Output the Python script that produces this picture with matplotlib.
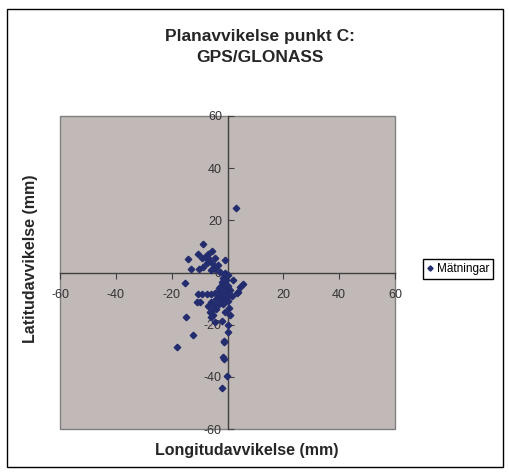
import matplotlib.pyplot as plt
from matplotlib.patches import Rectangle

plt.rcParams["font.family"] = ["Liberation Sans", "DejaVu Sans"]
plt.rcParams["axes.unicode_minus"] = False

# Mätningar (mm): longitud- och latitudavvikelse
lon = [-8.7, -14.3, -13.1, -10.5, -10.1, -9.2, -8.1, -6.9, -5.7, -4.5,
       -7.5, -8.7, -5.7, -4.7, -0.9, -4.5, -2.7, -0.9, -6.5, -7.0,
       -3.5, -6.0, -1.0, 0.0, -1.5, -0.5, -2.0, -1.0, 0.0, -2.5,
       -1.5, -3.0, -0.5, -2.0, -3.5, 0.0, -1.0, -2.5, -4.0, -1.5,
       -3.0, 0.0, -10.5, -9.0, -7.5, -6.0, -4.5, -15.2, -11.0, -9.7,
       -6.0, -5.0, 5.4, 4.5, 3.9, 3.3, 0.9, 1.5, 2.0, -5.7,
       -6.3, -5.1, -5.9, -2.1, 0.6, 0.9, 0.1, -1.1, -14.9, -12.5,
       -18.2, 0.0, -1.1, -1.7, -1.2, -0.3, -1.9, 3.2, -4.0, -4.5,
       -7.0, -3.0, -2.0, -1.0]
lat = [10.9, 5.1, 1.3, 7.0, 1.3, 5.4, 6.1, 7.0, 8.2, 5.4,
       3.5, 2.0, 3.5, 2.0, 4.8, 1.3, 0.3, 0.0, 4.5, 5.5,
       3.0, 1.0, -1.0, -1.0, -2.0, -3.0, -3.5, -4.5, -5.0, -5.0,
       -6.5, -6.0, -7.0, -8.0, -8.5, -9.0, -10.0, -10.5, -10.0, -12.0,
       -12.0, -11.0, -8.2, -8.2, -8.2, -8.2, -8.0, -3.9, -11.2, -11.2,
       -11.5, -12.5, -4.5, -5.4, -7.3, -8.0, -6.7, -9.0, -3.0, -14.4,
       -15.0, -16.3, -17.2, -18.5, -13.7, -16.3, -22.7, -26.2, -17.2, -23.8,
       -28.7, -20.0, -26.7, -32.5, -33.2, -39.5, -44.4, 24.6, -14.0, -19.0,
       -13.0, -7.0, -9.5, -15.0]

ticks = [-60, -40, -20, 0, 20, 40, 60]

fig = plt.figure(figsize=(5.09, 4.75), dpi=100)
fig.patches.append(Rectangle((7 / 509, 1 - 467 / 475), 496 / 509, 458 / 475,
                             transform=fig.transFigure, fill=False,
                             edgecolor="black", lw=1))

ax = fig.add_axes([60 / 509, 46 / 475, 335 / 509, 313 / 475])
ax.set_facecolor("#C0B9B7")

ax.plot(lon, lat, linestyle="none", marker="D", markersize=3.3,
        color="#232C6E", label="Mätningar", clip_on=False, zorder=3)

ax.set_xlim(-60, 60)
ax.set_ylim(-60, 60)
ax.set_xticks(ticks)
ax.set_yticks(ticks)

for s in ["top", "right"]:
    ax.spines[s].set_visible(False)
ax.spines["left"].set_position(("data", 0))
ax.spines["bottom"].set_position(("data", 0))
for s in ["left", "bottom"]:
    ax.spines[s].set_color("#404040")
    ax.spines[s].set_linewidth(1)
ax.add_patch(Rectangle((0, 0), 1, 1, transform=ax.transAxes, fill=False,
                       edgecolor="#808080", lw=1, clip_on=False))

ax.tick_params(axis="x", direction="out", length=4, pad=8, labelsize=9,
               colors="#404040", labelcolor="#333333")
ax.tick_params(axis="y", direction="in", length=4, pad=4, labelsize=9,
               colors="#404040", labelcolor="#333333")

fig.text(260 / 509, 1 - 47 / 475, "Planavvikelse punkt C:\nGPS/GLONASS",
         ha="center", va="center", fontsize=12.5, fontweight="bold",
         color="#262626", linespacing=1.5)
fig.text(247 / 509, 1 - 450 / 475, "Longitudavvikelse (mm)", ha="center",
         va="center", fontsize=11.5, fontweight="bold", color="#262626")
fig.text(31 / 509, 1 - 259 / 475, "Latitudavvikelse (mm)", ha="center",
         va="center", rotation=90, fontsize=11.5, fontweight="bold",
         color="#262626")

fig.legend(loc="center left", bbox_to_anchor=(417 / 509, 1 - 269 / 475),
           fontsize=8.5, frameon=True, fancybox=False, edgecolor="black",
           handlelength=0.6, handletextpad=0.3, borderpad=0.3,
           markerscale=0.8, framealpha=1)

fig.savefig("out.png", dpi=100)
